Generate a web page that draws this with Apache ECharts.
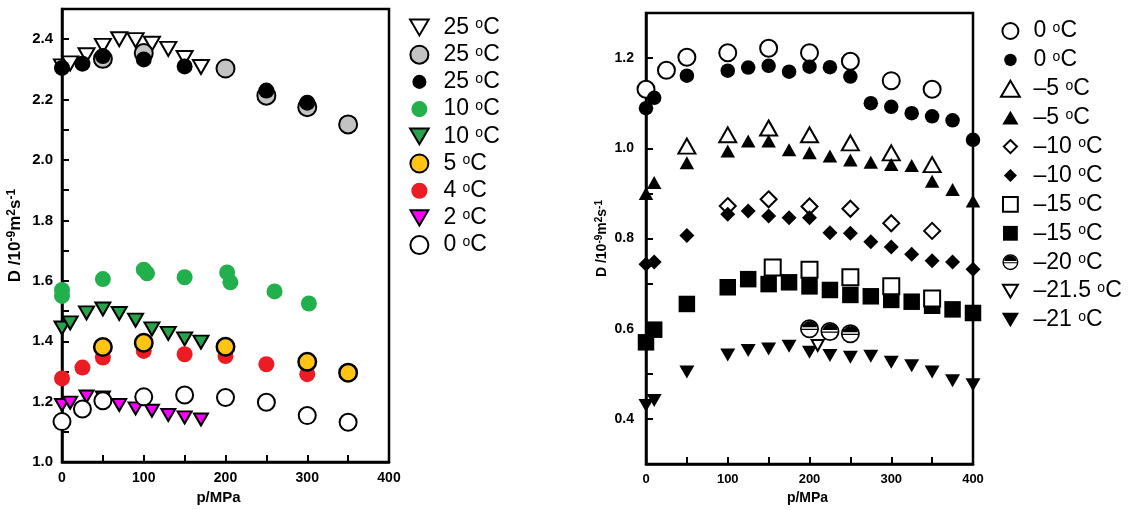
<!DOCTYPE html>
<html>
<head>
<meta charset="utf-8">
<script src="https://cdn.jsdelivr.net/npm/echarts@6/dist/echarts.min.js"></script>
<style>
  html, body { margin: 0; padding: 0; background: #fff; }
  #chart { width: 1133px; height: 510px; }
</style>
</head>
<body>
<div id="chart"></div>
<script>
// Self-diffusion coefficient D (10^-9 m^2 s^-1) against pressure p (MPa)

// ---- left panel: 25 °C down to 0 °C ----
const pA25tri = [0, 10, 30, 50, 70, 90, 110, 130, 150, 170];
const dA25tri = [2.31, 2.32, 2.347, 2.378, 2.40, 2.397, 2.385, 2.368, 2.338, 2.308];
const pA25grey = [50, 100, 200, 250, 300, 350];
const dA25grey = [2.335, 2.354, 2.303, 2.213, 2.175, 2.118];
const pA25black = [0, 25, 50, 100, 150, 250, 300];
const dA25black = [2.305, 2.319, 2.344, 2.333, 2.31, 2.23, 2.19];
const pA10dot = [0, 0, 50, 100, 104, 150, 202, 206, 260, 302];
const dA10dot = [1.57, 1.55, 1.606, 1.637, 1.625, 1.612, 1.628, 1.595, 1.565, 1.525];
const pA10tri = [0, 10, 30, 50, 70, 90, 110, 130, 150, 170];
const dA10tri = [1.444, 1.461, 1.494, 1.507, 1.492, 1.470, 1.441, 1.426, 1.408, 1.397];
const pA5 = [50, 100, 200, 300, 350];
const dA5 = [1.381, 1.395, 1.382, 1.332, 1.296];
const pA4 = [0, 25, 50, 100, 150, 200, 250, 300];
const dA4 = [1.277, 1.313, 1.346, 1.368, 1.357, 1.351, 1.324, 1.291];
const pA2 = [0, 10, 30, 50, 70, 90, 110, 130, 150, 170];
const dA2 = [1.189, 1.197, 1.217, 1.214, 1.189, 1.178, 1.170, 1.156, 1.148, 1.141];
const pA0 = [0, 25, 50, 100, 150, 200, 250, 300, 350];
const dA0 = [1.134, 1.176, 1.203, 1.216, 1.222, 1.214, 1.198, 1.154, 1.132];

// ---- right panel: 0 °C down to -21.5 °C ----
const pFull = [0, 10, 50, 100, 125, 150, 175, 200, 225, 250, 275, 300, 325, 350, 375, 400];
const pB0open = [0, 25, 50, 100, 150, 200, 250, 300, 350];
const dB0open = [1.131, 1.173, 1.202, 1.212, 1.222, 1.212, 1.193, 1.150, 1.131];
const dB0fill = [1.089, 1.112, 1.161, 1.172, 1.179, 1.183, 1.170, 1.181, 1.180, 1.159, 1.100, 1.092, 1.078, 1.071, 1.062, 1.019];
const pB5open = [50, 100, 150, 200, 250, 300, 350];
const dB5open = [1.005, 1.030, 1.045, 1.030, 1.012, 0.990, 0.964];
const dB5fill = [0.900, 0.924, 0.968, 0.994, 1.016, 1.016, 0.997, 0.990, 0.983, 0.974, 0.969, 0.964, 0.962, 0.927, 0.909, 0.883];
const pB10open = [100, 150, 200, 250, 300, 350];
const dB10open = [0.872, 0.887, 0.871, 0.866, 0.834, 0.817];
const dB10fill = [0.743, 0.748, 0.807, 0.854, 0.861, 0.850, 0.846, 0.846, 0.813, 0.812, 0.793, 0.781, 0.765, 0.751, 0.748, 0.732];
const pB15open = [155, 200, 250, 300, 350];
const dB15open = [0.736, 0.731, 0.714, 0.694, 0.667];
const dB15fill = [0.570, 0.598, 0.655, 0.692, 0.710, 0.699, 0.703, 0.694, 0.686, 0.675, 0.672, 0.664, 0.660, 0.651, 0.643, 0.635];
const pB20 = [200, 225, 250];
const dB20 = [0.600, 0.594, 0.589];
const pB215 = [210];
const dB215 = [0.563];
const dB21 = [0.430, 0.441, 0.504, 0.542, 0.552, 0.555, 0.561, 0.548, 0.541, 0.537, 0.539, 0.526, 0.518, 0.504, 0.485, 0.476];

// legend entries: series id -> temperature text
const legendLeft = [
  ['a25tri', '25'], ['a25grey', '25'], ['a25black', '25'], ['a10dot', '10'], ['a10tri', '10'],
  ['a5', '5'], ['a4', '4'], ['a2', '2'], ['a0', '0']
];
const legendRight = [
  ['b0open', '0'], ['b0fill', '0'], ['b5open', '–5'], ['b5fill', '–5'], ['b10open', '–10'],
  ['b10fill', '–10'], ['b15open', '–15'], ['b15fill', '–15'], ['b20', '–20'], ['b215', '–21.5'], ['b21', '–21']
];

const FONT = '"Liberation Sans", Arial, Helvetica, sans-serif';

// Marker outlines on a 100-unit box. An optional margin (extra move-to points)
// enlarges the bounding box so the legend draws that marker smaller.
const SHAPES = {
  circle: { d: 'M50,0A50,50,0,1,1,50,100A50,50,0,1,1,50,0Z', w: 100, h: 100 },
  up: { d: 'M50,0L100,85L0,85Z', w: 100, h: 85 },
  down: { d: 'M0,0L100,0L50,85Z', w: 100, h: 85 },
  diamond: { d: 'M50,0L100,50L50,100L0,50Z', w: 100, h: 100 },
  square: { d: 'M0,0L100,0L100,100L0,100Z', w: 100, h: 100 },
  half: {
    d: 'M50,0A50,50,0,1,1,50,100A50,50,0,1,1,50,0Z' +
       'M50,9A41,41,0,1,0,50,91A41,41,0,1,0,50,9Z' +
       'M10.8,42A40,40,0,0,1,89.2,42Z' +
       'M9,50L91,50L91,57L9,57Z',
    w: 100, h: 100
  }
};

function marker(shape, margin) {
  const s = SHAPES[shape];
  const m = margin || 0;
  const path = 'path://' + s.d + (m ? ('M' + (-m) + ',' + (-m) + 'M' + (s.w + m) + ',' + (s.h + m)) : '');
  return { path: path, fx: (s.w + 2 * m) / s.w, fy: (s.h + 2 * m) / s.h };
}

const zip = (xs, ys) => xs.map((x, i) => [x, ys[i]]);

// size: drawn size of the marker body in px ([w, h] or a single number)
function pts(name, grid, xs, ys, shape, margin, size, fill, border, bw) {
  const mk = marker(shape, margin);
  const sz = Array.isArray(size) ? size : [size, size];
  return {
    name: name,
    type: 'scatter',
    xAxisIndex: grid,
    yAxisIndex: grid,
    data: zip(xs, ys),
    symbol: mk.path,
    symbolSize: [sz[0] * mk.fx, sz[1] * mk.fy],
    clip: false,
    silent: true,
    itemStyle: {
      color: fill,
      opacity: 1,
      borderColor: border || fill,
      borderWidth: border ? (bw || 2) : 0
    }
  };
}

const tempLabels = {};
legendLeft.concat(legendRight).forEach(([k, t]) => { tempLabels[k] = t; });

function legendRich(size) {
  return {
    n: { fontSize: size, fontFamily: FONT, color: '#000', lineHeight: 20 },
    o: { fontSize: Math.round(size * 0.6), fontFamily: FONT, color: '#000', verticalAlign: 'top', lineHeight: 13 }
  };
}
const legendFmt = name => '{n|' + tempLabels[name] + ' }{o|o}{n|C}';

const tickFmt = v => {
  const k = Math.round(v * 10);
  return k % 2 === 0 ? (k / 10).toFixed(1) : '';
};

function xAxis(grid, fs, nameGap, nameShift) {
  return {
    gridIndex: grid, type: 'value', min: 0, max: 400, interval: 50,
    axisLine: { show: true, onZero: false, lineStyle: { color: '#000', width: 2.5 } },
    axisTick: { inside: true, length: 7, lineStyle: { color: '#000', width: 2 } },
    axisLabel: {
      formatter: v => (v % 100 === 0 ? String(v) : ''),
      color: '#000', fontWeight: 'bold', fontSize: fs, fontFamily: FONT, margin: 9
    },
    splitLine: { show: false },
    name: 'p/MPa', nameLocation: 'middle', nameGap: nameGap,
    nameTextStyle: { color: '#000', fontWeight: 'bold', fontSize: fs + 1, fontFamily: FONT, padding: [0, nameShift, 0, 0] }
  };
}

function yAxis(grid, min, max, fs, margin, nfs, nameGap) {
  return {
    gridIndex: grid, type: 'value', min: min, max: max, interval: 0.1,
    axisLine: { show: true, onZero: false, lineStyle: { color: '#000', width: 2.5 } },
    axisTick: { inside: true, length: 7, lineStyle: { color: '#000', width: 2 } },
    axisLabel: { formatter: tickFmt, color: '#000', fontWeight: 'bold', fontSize: fs, fontFamily: FONT, margin: margin },
    splitLine: { show: false },
    name: '{a|D /10}{s|-9}{a|m}{s|2}{a|s}{s|-1}',
    nameLocation: 'middle', nameGap: nameGap,
    nameTextStyle: {
      rich: {
        a: { fontSize: nfs, fontWeight: 'bold', fontFamily: FONT, color: '#000', lineHeight: nfs + 2 },
        s: { fontSize: Math.round(nfs * 0.68), fontWeight: 'bold', fontFamily: FONT, color: '#000', verticalAlign: 'top', lineHeight: Math.round(nfs * 0.68) }
      }
    }
  };
}

const series = [
  // left panel (drawing order sets how overlapping marks stack)
  pts('a25tri', 0, pA25tri, dA25tri, 'down', 6, [16, 14], '#ffffff', '#000'),
  pts('a25grey', 0, pA25grey, dA25grey, 'circle', 0, 18, '#c3c3c3', '#000'),
  pts('a25black', 0, pA25black, dA25black, 'circle', 14, 16, '#000000'),
  pts('a10dot', 0, pA10dot, dA10dot, 'circle', 6, 16, '#22b04c'),
  pts('a10tri', 0, pA10tri, dA10tri, 'down', 6, [15, 13], '#27a34a', '#000'),
  pts('a4', 0, pA4, dA4, 'circle', 6, 16, '#ec1c24'),
  pts('a5', 0, pA5, dA5, 'circle', 0, 17.5, '#ffc414', '#000', 2.5),
  pts('a2', 0, pA2, dA2, 'down', 8, [14, 12], '#ff00ff', '#000'),
  pts('a0', 0, pA0, dA0, 'circle', 0, 17, '#ffffff', '#000'),
  // right panel
  pts('b0open', 1, pB0open, dB0open, 'circle', 0, 17, '#ffffff', '#000'),
  pts('b0fill', 1, pFull, dB0fill, 'circle', 14, 14.5, '#000000'),
  pts('b5open', 1, pB5open, dB5open, 'up', 0, [17, 15], '#ffffff', '#000'),
  pts('b5fill', 1, pFull, dB5fill, 'up', 7, [14.5, 13], '#000000'),
  pts('b10open', 1, pB10open, dB10open, 'diamond', 11, 16, '#ffffff', '#000'),
  pts('b10fill', 1, pFull, dB10fill, 'diamond', 11, 15, '#000000'),
  pts('b15fill', 1, pFull, dB15fill, 'square', 4, 16.5, '#000000'),
  pts('b15open', 1, pB15open, dB15open, 'square', 4, 16, '#ffffff', '#000'),
  pts('b21', 1, pFull, dB21, 'down', 4, [15, 13], '#000000'),
  pts('b215', 1, pB215, dB215, 'down', 11, [12, 11], '#ffffff', '#000'),
  pts('b20', 1, pB20, dB20, 'half', 0, 19, '#000000')
];

const option = {
  animation: false,
  backgroundColor: '#ffffff',
  grid: [
    { left: 62, top: 9, width: 327, height: 458, show: true, borderColor: '#000', borderWidth: 2.5, backgroundColor: 'transparent' },
    { left: 646, top: 13, width: 327, height: 454, show: true, borderColor: '#000', borderWidth: 2.5, backgroundColor: 'transparent' }
  ],
  xAxis: [xAxis(0, 14, 27, 14), xAxis(1, 13, 26, 4)],
  yAxis: [yAxis(0, 1.0, 2.5, 15, 9, 17, 37), yAxis(1, 0.3, 1.3, 14, 12, 14, 36)],
  legend: [
    {
      orient: 'vertical', left: 403, top: 11, itemWidth: 38, itemHeight: 18, itemGap: 4.2,
      selectedMode: false, data: legendLeft.map(e => e[0]), formatter: legendFmt,
      textStyle: { rich: legendRich(23) }
    },
    {
      orient: 'vertical', left: 995, top: 14.5, itemWidth: 36, itemHeight: 16, itemGap: 5.9,
      selectedMode: false, data: legendRight.map(e => e[0]), formatter: legendFmt,
      textStyle: { rich: legendRich(23) }
    }
  ],
  series: series
};

const chart = echarts.init(document.getElementById('chart'), null, { renderer: 'canvas' });
chart.setOption(option);
</script>
</body>
</html>
